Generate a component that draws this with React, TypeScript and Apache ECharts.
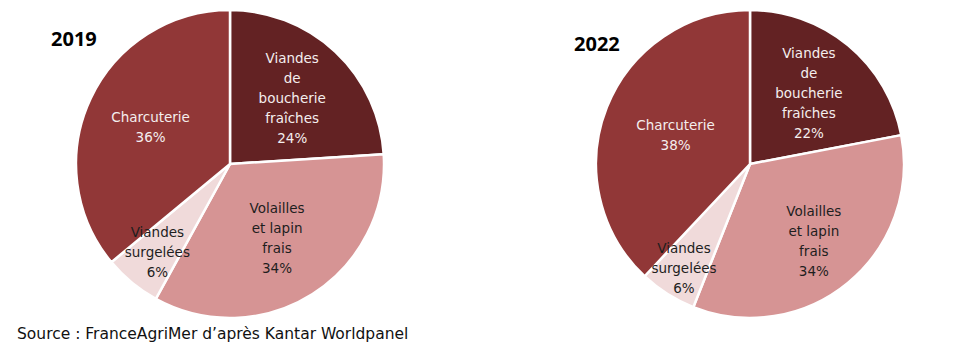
import React, { useEffect, useRef } from "react";
import * as echarts from "echarts";

const categories = [
  "Viandes de boucherie fraîches",
  "Volailles et lapin frais",
  "Viandes surgelées",
  "Charcuterie",
];
const labelTexts = [
  "Viandes\nde\nboucherie\nfraîches",
  "Volailles\net lapin\nfrais",
  "Viandes\nsurgelées",
  "Charcuterie",
];
const years = ["2019", "2022"];
const values2019 = [24, 34, 6, 36];
const values2022 = [22, 34, 6, 38];
const labelRadius2019 = [0.59, 0.57, 0.74, 0.57];
const labelRadius2022 = [0.6, 0.65, 0.8, 0.52];
const sourceText = "Source : FranceAgriMer d’après Kantar Worldpanel";

const colors = ["#632223", "#d69494", "#f0dada", "#913737"];
const labelColors = ["#f4eeee", "#1e1e1e", "#1e1e1e", "#f4eeee"];

const FONT = "'DejaVu Sans', sans-serif";
const TITLE_FONT = "'Noto Sans', sans-serif";

export default function App() {
  const ref = useRef<HTMLDivElement>(null);

  useEffect(() => {
    document.body.style.margin = "0";
    if (!ref.current) return;
    const chart = echarts.init(ref.current, null, { renderer: "svg" });

    const centers: [number, number][] = [
      [230, 164],
      [750, 164],
    ];
    const R = 154;
    const allValues = [values2019, values2022];
    const allRadius = [labelRadius2019, labelRadius2022];

    const makeSeries = (si: number) => ({
      type: "pie",
      name: years[si],
      center: centers[si],
      radius: [0, R],
      startAngle: 90,
      clockwise: true,
      avoidLabelOverlap: false,
      silent: true,
      itemStyle: { borderColor: "#ffffff", borderWidth: 2.5 },
      label: {
        show: true,
        position: "inside",
        fontFamily: FONT,
        fontSize: 13.5,
        lineHeight: 20,
        align: "center",
        formatter: (p: any) => `${labelTexts[p.dataIndex]}\n${p.value}%`,
      },
      labelLine: { show: false },
      labelLayout: (params: any) => {
        const vals = allValues[si];
        const total = vals.reduce((a, b) => a + b, 0);
        let before = 0;
        for (let i = 0; i < params.dataIndex; i++) before += vals[i];
        const mid = ((before + vals[params.dataIndex] / 2) / total) * Math.PI * 2;
        const d = allRadius[si][params.dataIndex] * R;
        return {
          x: centers[si][0] + Math.sin(mid) * d,
          y: centers[si][1] - Math.cos(mid) * d,
          align: "center",
          verticalAlign: "middle",
        };
      },
      data: categories.map((c, i) => ({
        name: c,
        value: allValues[si][i],
        itemStyle: { color: colors[i] },
        label: { color: labelColors[i] },
      })),
    });

    chart.setOption({
      animation: false,
      title: [
        {
          text: years[0],
          left: 46,
          top: 23,
          textStyle: { fontFamily: TITLE_FONT, fontSize: 20, fontWeight: "bold", color: "#000" },
        },
        {
          text: years[1],
          left: 569,
          top: 28,
          textStyle: { fontFamily: TITLE_FONT, fontSize: 20, fontWeight: "bold", color: "#000" },
        },
        {
          text: sourceText,
          left: 12,
          top: 321,
          textStyle: { fontFamily: FONT, fontSize: 15.5, fontWeight: "normal", color: "#111" },
        },
      ],
      series: [makeSeries(0), makeSeries(1)],
    });

    return () => chart.dispose();
  }, []);

  return <div ref={ref} style={{ width: 974, height: 361 }} />;
}
